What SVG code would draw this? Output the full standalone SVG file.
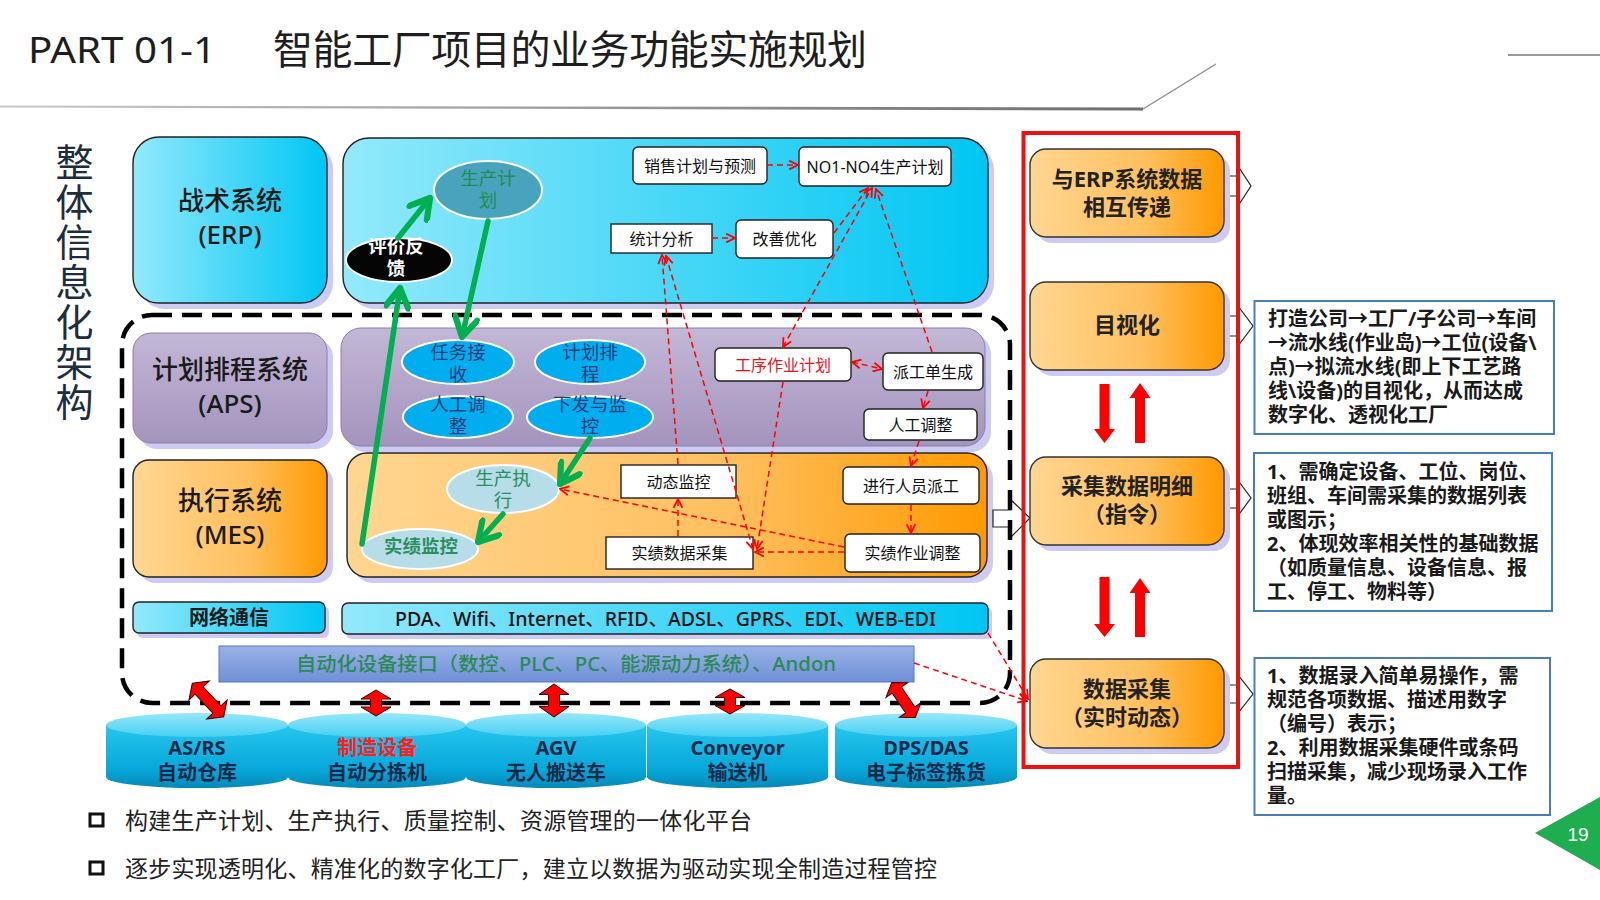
<svg xmlns="http://www.w3.org/2000/svg" width="1600" height="900" viewBox="0 0 1600 900">
<defs>
<linearGradient id="gCyan" x1="0" y1="0" x2="1" y2="0"><stop offset="0" stop-color="#93e9fb"/><stop offset="1" stop-color="#00c6f3"/></linearGradient>
<linearGradient id="gPurple" x1="0" y1="0" x2="0" y2="1"><stop offset="0" stop-color="#c3b7d7"/><stop offset="1" stop-color="#a394bd"/></linearGradient>
<linearGradient id="gOrange" x1="0" y1="0" x2="1" y2="0"><stop offset="0" stop-color="#ffd692"/><stop offset="0.6" stop-color="#ffbf5e"/><stop offset="1" stop-color="#ff9900"/></linearGradient>
<linearGradient id="gBlue" x1="0" y1="0" x2="0" y2="1"><stop offset="0" stop-color="#9ab2e6"/><stop offset="1" stop-color="#6f90d7"/></linearGradient>
<linearGradient id="gCylBody" x1="0" y1="0" x2="0" y2="1"><stop offset="0" stop-color="#28c6ef"/><stop offset="0.7" stop-color="#06a8da"/><stop offset="1" stop-color="#0789b6"/></linearGradient>
<linearGradient id="gCylTop" x1="0" y1="0" x2="0" y2="1"><stop offset="0" stop-color="#96e7fa"/><stop offset="1" stop-color="#45d0f3"/></linearGradient>
<linearGradient id="gLine" x1="0" y1="0" x2="1" y2="0"><stop offset="0" stop-color="#c8c8c8"/><stop offset="1" stop-color="#6e6e6e"/></linearGradient>
<marker id="mr" viewBox="0 0 10 10" refX="9" refY="5" markerWidth="11" markerHeight="11" markerUnits="userSpaceOnUse" orient="auto-start-reverse"><path d="M1,1 L9,5 L1,9" fill="none" stroke="#ff0000" stroke-width="1.6"/></marker>
<marker id="mg" viewBox="0 0 24 24" refX="20" refY="12" markerWidth="27" markerHeight="27" markerUnits="userSpaceOnUse" orient="auto"><path d="M3,2 L20,12 L3,22" fill="none" stroke="#00b050" stroke-width="5.5" stroke-linejoin="round" stroke-linecap="round"/></marker>
<style>
.f{font-family:"Noto Sans","Noto Sans CJK SC",sans-serif;}
.c{text-anchor:middle;dominant-baseline:central;}
.sh{fill:#cdcbf3;}
.bx{stroke:#222;stroke-width:1.4;}
.wb{fill:#fff;stroke:#222;stroke-width:1.4;}
.wt{font-size:16px;fill:#111;}
.sys{font-size:26px;fill:#1a1a1a;font-weight:500;}
.ob{fill:url(#gOrange);stroke:#333;stroke-width:1.4;}
.ot{font-size:22px;font-weight:bold;fill:#222;}
.el{stroke:#fff;stroke-width:2;}
.et{font-size:18.5px;}
.rd{fill:none;stroke:#ff0000;stroke-width:1.5;stroke-dasharray:6 4;}
.gr{fill:none;stroke:#00b050;stroke-width:5.5;stroke-linecap:round;}
.desc{fill:#fff;stroke:#4a7ebb;stroke-width:2;}
.dt{font-size:20px;font-weight:bold;fill:#1a1a1a;}
.wa{fill:#fff;stroke:#222;stroke-width:1.2;}
.ra{fill:#ff0000;stroke:#3a0000;stroke-width:1;}
.cy{font-size:20px;fill:#14284a;font-weight:bold;}
.bt{font-size:23px;fill:#222;}
</style>
</defs>

<rect width="1600" height="900" fill="#fff"/>

<!-- header -->
<g id="header">
<polygon points="0,105.5 1143,107.5 1143,110.5 0,107.5" fill="url(#gLine)"/>
<line x1="1143" y1="109" x2="1216" y2="64" stroke="#8a8a8a" stroke-width="1.3"/>
<line x1="1508" y1="55" x2="1600" y2="55" stroke="#9a9a9a" stroke-width="2.2"/>
<text class="f" x="28" y="63" font-size="36" fill="#1e1e1e" textLength="188" lengthAdjust="spacingAndGlyphs">PART 01-1</text>
<text class="f" x="273" y="64" font-size="40" fill="#1e1e1e" textLength="594" lengthAdjust="spacing">智能工厂项目的业务功能实施规划</text>
</g>

<g id="side-title">
<text class="f" x="73" y="143" font-size="38" fill="#1c2e3e" writing-mode="vertical-rl" letter-spacing="2">整体信息化架构</text>
</g>

<!-- system boxes (left) -->
<g id="erp-sys">
<rect class="sh" x="139" y="143" width="194" height="166" rx="26"/>
<rect class="bx" x="133" y="137" width="194" height="166" rx="26" fill="url(#gCyan)"/>
<text class="f c sys" x="230" y="200">战术系统</text>
<text class="f c sys" x="230" y="234">(ERP)</text>
</g>
<g id="aps-sys">
<rect class="sh" x="139" y="339" width="194" height="110" rx="18"/>
<rect x="133" y="333" width="194" height="110" rx="18" fill="url(#gPurple)" stroke="#8d7fa8" stroke-width="1"/>
<text class="f c sys" x="230" y="369">计划排程系统</text>
<text class="f c sys" x="230" y="403">(APS)</text>
</g>
<g id="mes-sys">
<rect class="sh" x="139" y="466" width="194" height="117" rx="16"/>
<rect class="bx" x="133" y="460" width="194" height="117" rx="16" fill="url(#gOrange)"/>
<text class="f c sys" x="230" y="500">执行系统</text>
<text class="f c sys" x="230" y="534">(MES)</text>
</g>

<!-- layer panels -->
<g id="erp-panel">
<rect class="sh" x="349" y="144" width="645" height="165" rx="26"/>
<rect class="bx" x="343" y="138" width="645" height="165" rx="26" fill="url(#gCyan)"/>
</g>
<g id="aps-panel">
<rect class="sh" x="346" y="334" width="645" height="118" rx="20"/>
<rect x="341" y="328" width="644" height="118" rx="20" fill="url(#gPurple)" stroke="#8d7fa8" stroke-width="1"/>
</g>
<g id="mes-panel">
<rect class="sh" x="353" y="459" width="640" height="124" rx="20"/>
<rect class="bx" x="347" y="453" width="640" height="124" rx="20" fill="url(#gOrange)"/>
</g>

<!-- ERP panel nodes -->
<g id="n-sales"><rect class="wb" x="633" y="147" width="134" height="37" rx="5"/><text class="f c wt" x="700" y="165.5">销售计划与预测</text></g>
<g id="n-no1"><rect class="wb" x="799" y="147" width="152" height="39" rx="5"/><text class="f c wt" x="875" y="166.5">NO1-NO4生产计划</text></g>
<g id="n-stat"><rect class="wb" x="611" y="224" width="101" height="29"/><text class="f c wt" x="661.5" y="238.5">统计分析</text></g>
<g id="n-improve"><rect class="wb" x="736" y="220" width="97" height="38" rx="5"/><text class="f c wt" x="784.5" y="239">改善优化</text></g>
<g id="n-plan">
<ellipse class="el" cx="488" cy="190" rx="54" ry="29" fill="#4aa3bd"/>
<text class="f c et" x="488" y="177" fill="#1f8e52">生产计</text>
<text class="f c et" x="488" y="199" fill="#1f8e52">划</text>
</g>
<g id="n-feedback">
<ellipse class="el" cx="399" cy="260" rx="53" ry="22" fill="#050505"/>
<text class="f c et" x="396" y="245" fill="#fff" font-weight="bold">评价反</text>
<text class="f c et" x="396" y="267" fill="#fff" font-weight="bold">馈</text>
</g>

<!-- APS panel nodes -->
<g id="n-task"><ellipse class="el" cx="458" cy="362" rx="56" ry="22" fill="#00aeef"/><text class="f c et" x="458" y="351" fill="#1f3d7a">任务接</text><text class="f c et" x="458" y="373" fill="#1f3d7a">收</text></g>
<g id="n-sched"><ellipse class="el" cx="590" cy="362" rx="55" ry="22" fill="#00aeef"/><text class="f c et" x="590" y="351" fill="#1f3d7a">计划排</text><text class="f c et" x="590" y="373" fill="#1f3d7a">程</text></g>
<g id="n-manual"><ellipse class="el" cx="458" cy="417" rx="55" ry="21" fill="#00aeef"/><text class="f c et" x="458" y="403" fill="#1f3d7a">人工调</text><text class="f c et" x="458" y="425" fill="#1f3d7a">整</text></g>
<g id="n-issue"><ellipse class="el" cx="590" cy="417" rx="63" ry="21" fill="#00aeef"/><text class="f c et" x="590" y="403" fill="#1f3d7a">下发与监</text><text class="f c et" x="590" y="425" fill="#1f3d7a">控</text></g>
<g id="n-proc"><rect class="wb" x="715" y="348" width="136" height="33" rx="5"/><text class="f c wt" x="783" y="364.5" style="fill:#e8141a">工序作业计划</text></g>
<g id="n-dispatch"><rect class="wb" x="883" y="353" width="100" height="37" rx="5"/><text class="f c wt" x="933" y="371.5">派工单生成</text></g>
<g id="n-adjust"><rect class="wb" x="864" y="409" width="113" height="31" rx="5"/><text class="f c wt" x="920.5" y="424.5">人工调整</text></g>

<!-- MES panel nodes -->
<g id="n-exec"><ellipse class="el" cx="503" cy="489" rx="56" ry="24" fill="#b6dde8"/><text class="f c et" x="503" y="477" fill="#2a8f5f">生产执</text><text class="f c et" x="503" y="499" fill="#2a8f5f">行</text></g>
<g id="n-monitor"><ellipse class="el" cx="420" cy="549" rx="58" ry="20" fill="#b6dde8"/><text class="f c et" x="421" y="545" fill="#2a8f5f" font-weight="bold">实绩监控</text></g>
<g id="n-dyn"><rect class="wb" x="621" y="465" width="115" height="33"/><text class="f c wt" x="678.5" y="481.5">动态监控</text></g>
<g id="n-staff"><rect class="wb" x="843" y="467" width="136" height="37" rx="5"/><text class="f c wt" x="911" y="485.5">进行人员派工</text></g>
<g id="n-collect"><rect class="wb" x="606" y="537" width="147" height="32"/><text class="f c wt" x="679.5" y="553">实绩数据采集</text></g>
<g id="n-jobadj"><rect class="wb" x="845" y="534" width="135" height="38" rx="5"/><text class="f c wt" x="912.5" y="553">实绩作业调整</text></g>

<!-- network / interface bars -->
<g id="net-label"><rect class="sh" x="137" y="606" width="192" height="32" rx="6"/><rect class="bx" x="133" y="602" width="192" height="31" rx="6" fill="url(#gCyan)"/><text class="f c" x="229" y="617.5" font-size="20" font-weight="bold" fill="#1a1a1a">网络通信</text></g>
<g id="net-list"><rect class="sh" x="346" y="607" width="646" height="32" rx="6"/><rect class="bx" x="342" y="603" width="646" height="31" rx="6" fill="url(#gCyan)"/><text class="f" x="395" y="618.5" font-size="19" fill="#111" font-weight="500" dominant-baseline="central" textLength="541" lengthAdjust="spacingAndGlyphs">PDA、Wifi、Internet、RFID、ADSL、GPRS、EDI、WEB-EDI</text></g>
<g id="auto-if"><rect x="219" y="646" width="695" height="36" fill="url(#gBlue)" stroke="#5a7bc0" stroke-width="1"/><text class="f" x="296" y="664" font-size="19" fill="#2a8a55" font-weight="500" dominant-baseline="central" textLength="540" lengthAdjust="spacingAndGlyphs">自动化设备接口（数控、PLC、PC、能源动力系统）、Andon</text></g>

<!-- white block arrows -->
<g id="block-arrows">
<polygon class="wa" points="1224,176 1238,176 1238,166 1251,186 1238,206 1238,196 1224,196"/>
<polygon class="wa" points="1224,316 1238,316 1238,306 1253,326 1238,346 1238,336 1224,336"/>
<polygon class="wa" points="1224,489 1237,489 1237,479 1251,498 1237,517 1237,508 1224,508"/>
<polygon class="wa" points="1224,685 1238,685 1238,675 1253,694 1238,713 1238,703 1224,703"/>
<polygon class="wa" points="993,510 1011,510 1011,500 1030,518 1011,537 1011,527 993,527"/>
</g>

<!-- dashed boundary -->
<rect id="mes-scope" x="122" y="315" width="888" height="388" rx="30" fill="none" stroke="#000" stroke-width="4.5" stroke-dasharray="20 10"/>

<!-- right column -->
<g id="r-erp"><rect class="sh" x="1036" y="155" width="194" height="88" rx="16"/><rect class="ob" x="1030" y="149" width="194" height="88" rx="16"/><text class="f c ot" x="1127" y="178">与ERP系统数据</text><text class="f c ot" x="1127" y="206">相互传递</text></g>
<g id="r-visual"><rect class="sh" x="1036" y="288" width="194" height="88" rx="16"/><rect class="ob" x="1030" y="282" width="194" height="88" rx="16"/><text class="f c ot" x="1127" y="324">目视化</text></g>
<g id="r-detail"><rect class="sh" x="1036" y="463" width="194" height="88" rx="16"/><rect class="ob" x="1030" y="457" width="194" height="88" rx="16"/><text class="f c ot" x="1127" y="485">采集数据明细</text><text class="f c ot" x="1127" y="513">（指令）</text></g>
<g id="r-collect"><rect class="sh" x="1036" y="665" width="194" height="89" rx="16"/><rect class="ob" x="1030" y="659" width="194" height="89" rx="16"/><text class="f c ot" x="1127" y="688">数据采集</text><text class="f c ot" x="1127" y="716">（实时动态）</text></g>
<rect id="red-frame" x="1023.5" y="133" width="214.5" height="634" fill="none" stroke="#ee1111" stroke-width="4"/>
<g id="red-updown" fill="#ff0000">
<polygon points="1099.5,384 1109.5,384 1109.5,429 1115,429 1104.5,443 1094,429 1099.5,429"/>
<polygon points="1135,443 1145,443 1145,398 1150.5,398 1140,383 1129.5,398 1135,398"/>
<polygon points="1099.5,577 1109.5,577 1109.5,624 1115,624 1104.5,637 1094,624 1099.5,624"/>
<polygon points="1135,637 1145,637 1145,593 1150.5,593 1140,578 1129.5,593 1135,593"/>
</g>

<!-- description boxes -->
<g id="d-visual"><rect class="desc" x="1254.5" y="301" width="299.5" height="133"/>
<g class="f dt"><text x="1268" y="326">打造公司→工厂/子公司→车间</text><text x="1268" y="350">→流水线(作业岛)→工位(设备\</text><text x="1268" y="374">点)→拟流水线(即上下工艺路</text><text x="1268" y="398">线\设备)的目视化，从而达成</text><text x="1268" y="422">数字化、透视化工厂</text></g></g>
<g id="d-detail"><rect class="desc" x="1254" y="453" width="298" height="158"/>
<g class="f dt"><text x="1267" y="479">1、需确定设备、工位、岗位、</text><text x="1267" y="503">班组、车间需采集的数据列表</text><text x="1267" y="527">或图示；</text><text x="1267" y="551">2、体现效率相关性的基础数据</text><text x="1267" y="575">（如质量信息、设备信息、报</text><text x="1267" y="599">工、停工、物料等）</text></g></g>
<g id="d-collect"><rect class="desc" x="1254.5" y="658" width="295.5" height="157"/>
<g class="f dt"><text x="1267" y="683">1、数据录入简单易操作，需</text><text x="1267" y="707">规范各项数据、描述用数字</text><text x="1267" y="731">（编号）表示；</text><text x="1267" y="755">2、利用数据采集硬件或条码</text><text x="1267" y="779">扫描采集，减少现场录入工作</text><text x="1267" y="803">量。</text></g></g>

<!-- cylinders -->
<g id="cyl-asrs"><path d="M106,725 L106,777 A91,11 0 0 0 288,777 L288,725 Z" fill="url(#gCylBody)"/><ellipse cx="197" cy="725" rx="91" ry="12" fill="url(#gCylTop)"/><text class="f c cy" x="197" y="747">AS/RS</text><text class="f c cy" x="197" y="772">自动仓库</text></g>
<g id="cyl-mfg"><path d="M288,725 L288,777 A89,11 0 0 0 466,777 L466,725 Z" fill="url(#gCylBody)"/><ellipse cx="377" cy="725" rx="89" ry="12" fill="url(#gCylTop)"/><text class="f c cy" x="377" y="747" style="fill:#ff1e1e">制造设备</text><text class="f c cy" x="377" y="772">自动分拣机</text></g>
<g id="cyl-agv"><path d="M466,725 L466,777 A90,11 0 0 0 646,777 L646,725 Z" fill="url(#gCylBody)"/><ellipse cx="556" cy="725" rx="90" ry="12" fill="url(#gCylTop)"/><text class="f c cy" x="556" y="747">AGV</text><text class="f c cy" x="556" y="772">无人搬送车</text></g>
<g id="cyl-conv"><path d="M647,725 L647,777 A90.5,11 0 0 0 828,777 L828,725 Z" fill="url(#gCylBody)"/><ellipse cx="737.5" cy="725" rx="90.5" ry="12" fill="url(#gCylTop)"/><text class="f c cy" x="737.5" y="747">Conveyor</text><text class="f c cy" x="737.5" y="772">输送机</text></g>
<g id="cyl-dps"><path d="M835,725 L835,777 A91,11 0 0 0 1017,777 L1017,725 Z" fill="url(#gCylBody)"/><ellipse cx="926" cy="725" rx="91" ry="12" fill="url(#gCylTop)"/><text class="f c cy" x="926" y="747">DPS/DAS</text><text class="f c cy" x="926" y="772">电子标签拣货</text></g>

<!-- red double arrows -->
<g id="io-arrows">
<polygon class="ra" transform="translate(208,700) rotate(-43)" points="0,-23 14,-13 5.5,-13 5.5,13 14,13 0,23 -14,13 -5.5,13 -5.5,-13 -14,-13"/>
<polygon class="ra" transform="translate(376,703)" points="0,-13 15,-4 5.5,-4 5.5,4 15,4 0,13 -15,4 -5.5,4 -5.5,-4 -15,-4"/>
<polygon class="ra" transform="translate(554,700.5)" points="0,-16.5 15,-6 5.5,-6 5.5,6 15,6 0,16.5 -15,6 -5.5,6 -5.5,-6 -15,-6"/>
<polygon class="ra" transform="translate(730,701.5)" points="0,-12.5 15,-4 5.5,-4 5.5,4 15,4 0,12.5 -15,4 -5.5,4 -5.5,-4 -15,-4"/>
<polygon class="ra" transform="translate(903.5,700) rotate(-34)" points="0,-21 13,-12 5.5,-12 5.5,12 13,12 0,21 -13,12 -5.5,12 -5.5,-12 -13,-12"/>
</g>

<!-- connectors -->
<g id="connectors">
<path class="rd" d="M767,165 L798,165" marker-end="url(#mr)"/>
<path class="rd" d="M712,238 L735,238" marker-end="url(#mr)"/>
<path class="rd" d="M834,233 L868,188" marker-end="url(#mr)"/>
<path class="rd" d="M783,347 L872,188" marker-start="url(#mr)" marker-end="url(#mr)"/>
<path class="rd" d="M932,352 L876,189" marker-end="url(#mr)"/>
<path class="rd" d="M852,362 L882,369" marker-start="url(#mr)" marker-end="url(#mr)"/>
<path class="rd" d="M928,391 L923,408" marker-end="url(#mr)"/>
<path class="rd" d="M919,441 L911,466" marker-end="url(#mr)"/>
<path class="rd" d="M911,505 L911,533" marker-end="url(#mr)"/>
<path class="rd" d="M844,552 L755,552" marker-end="url(#mr)"/>
<path class="rd" d="M844,547 L560,489" marker-end="url(#mr)"/>
<path class="rd" d="M678,536 L678,499" marker-end="url(#mr)"/>
<path class="rd" d="M678,464 L662,255" marker-end="url(#mr)"/>
<path class="rd" d="M753,549 L666,256" marker-start="url(#mr)" marker-end="url(#mr)"/>
<path class="rd" d="M783,382 L757,549" marker-end="url(#mr)"/>
<path class="rd" d="M914,663 L1027,701" marker-end="url(#mr)"/>
<path class="rd" d="M988,633 L1028,699" marker-end="url(#mr)"/>
<path class="gr" d="M398,238 L430,198" marker-end="url(#mg)"/>
<path class="gr" d="M488,221 L462,337" marker-end="url(#mg)"/>
<path class="gr" d="M362,544 L400,288" marker-end="url(#mg)"/>
<path class="gr" d="M590,438 L560,484" marker-end="url(#mg)"/>
<path class="gr" d="M503,514 L478,542" marker-end="url(#mg)"/>
</g>

<!-- bullets -->
<g id="bullets">
<rect x="90" y="814" width="13" height="12" fill="#fff" stroke="#111" stroke-width="3"/>
<text class="f bt" x="125" y="820" dominant-baseline="central" textLength="627" lengthAdjust="spacing">构建生产计划、生产执行、质量控制、资源管理的一体化平台</text>
<rect x="90" y="862" width="13" height="12" fill="#fff" stroke="#111" stroke-width="3"/>
<text class="f bt" x="125" y="868" dominant-baseline="central" textLength="812" lengthAdjust="spacing">逐步实现透明化、精准化的数字化工厂，建立以数据为驱动实现全制造过程管控</text>
</g>

<g id="page-num">
<polygon points="1535,833 1600,797 1600,870" fill="#1fae4f"/>
<text x="1578" y="834" font-family="'Liberation Sans',Arial,sans-serif" font-size="19" fill="#fff" text-anchor="middle" dominant-baseline="central">19</text>
</g>
</svg>
